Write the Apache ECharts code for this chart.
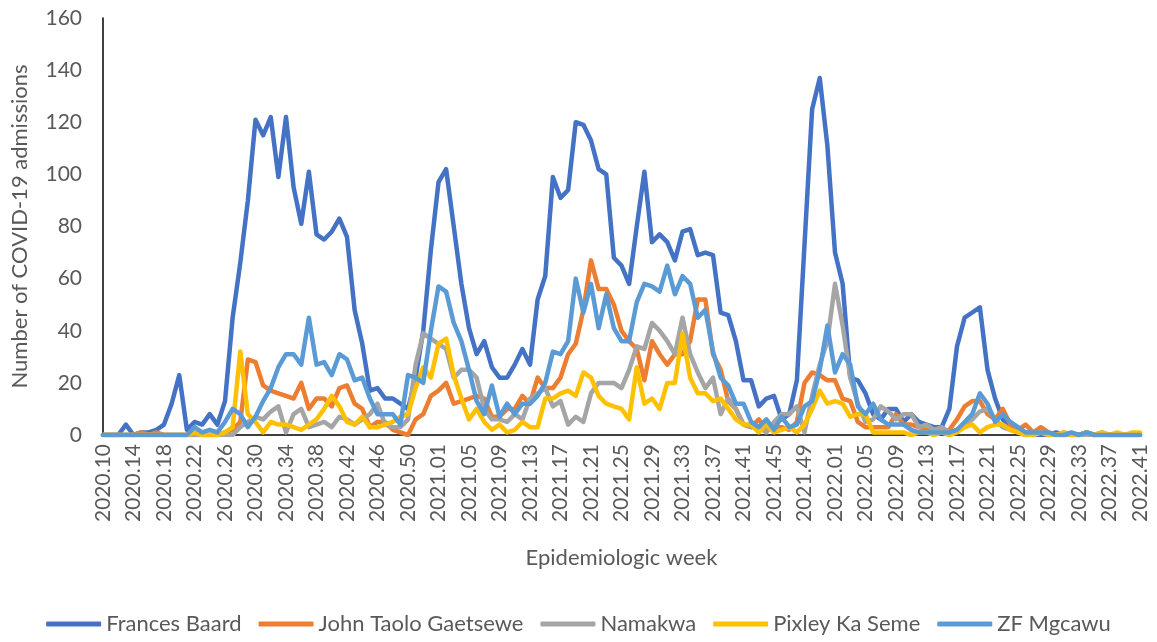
<!DOCTYPE html>
<html>
<head>
<meta charset="utf-8">
<script src="https://cdn.jsdelivr.net/npm/echarts@6/dist/echarts.min.js"></script>
<style>
  html, body { margin: 0; padding: 0; background: #fff; }
  #chart { width: 1157px; height: 642px; }
</style>
</head>
<body>
<div id="chart"></div>
<script>
// epidemiologic weeks: [year, first week, last week]
const yearWeeks = [[2020, 10, 53], [2021, 1, 52], [2022, 1, 41]]
const weeks = []
yearWeeks.forEach(([y, a, b]) => {
  for (let w = a; w <= b; w++) weeks.push(y + '.' + String(w).padStart(2, '0'))
})

const seriesNames = ['Frances Baard', 'John Taolo Gaetsewe', 'Namakwa', 'Pixley Ka Seme', 'ZF Mgcawu']
const seriesColors = ['#4472C4', '#ED7D31', '#A5A5A5', '#FFC000', '#5B9BD5']
const yTicks = [0, 20, 40, 60, 80, 100, 120, 140, 160]

// admissions per week
const francesBaard = [
  0, 0, 0, 4, 0, 1, 1, 2, 4, 12,
  23, 2, 5, 4, 8, 4, 13, 45, 66, 90,
  121, 115, 122, 99, 122, 95, 81, 101, 77, 75,
  78, 83, 76, 48, 35, 17, 18, 14, 14, 12,
  10, 22, 40, 71, 97, 102, 80, 58, 41, 31,
  36, 26, 22, 22, 27, 33, 27, 52, 61, 99,
  91, 94, 120, 119, 113, 102, 100, 68, 65, 58,
  80, 101, 74, 77, 74, 67, 78, 79, 69, 70,
  69, 47, 46, 36, 21, 21, 11, 14, 15, 6,
  8, 21, 73, 125, 137, 111, 70, 58, 22, 21,
  16, 8, 6, 10, 10, 5, 8, 5, 4, 3,
  3, 10, 34, 45, 47, 49, 25, 14, 6, 3,
  1, 1, 0, 0, 0, 1, 0, 0, 0, 1,
  0, 0, 0, 0, 0, 0, 0
]
const johnTaolo = [
  0, 0, 0, 0, 0, 1, 0, 1, 0, 0,
  0, 0, 0, 0, 0, 0, 1, 2, 5, 29,
  28, 19, 17, 16, 15, 14, 20, 10, 14, 14,
  11, 18, 19, 12, 10, 3, 5, 5, 2, 1,
  0, 6, 8, 15, 17, 20, 12, 13, 14, 15,
  14, 7, 7, 10, 10, 15, 12, 22, 18, 18,
  22, 31, 35, 48, 67, 56, 56, 50, 40, 36,
  33, 21, 36, 31, 27, 31, 31, 36, 52, 52,
  31, 25, 13, 10, 4, 3, 6, 2, 3, 3,
  2, 5, 20, 24, 23, 21, 21, 14, 13, 5,
  3, 3, 3, 3, 8, 4, 4, 3, 2, 2,
  1, 2, 6, 11, 13, 13, 8, 6, 10, 4,
  2, 4, 1, 3, 1, 0, 1, 0, 0, 1,
  0, 0, 0, 0, 0, 0, 0
]
const namakwa = [
  0, 0, 0, 0, 0, 0, 0, 0, 0, 0,
  0, 0, 0, 0, 0, 0, 0, 0, 3, 5,
  7, 6, 9, 11, 1, 8, 10, 3, 4, 5,
  3, 7, 6, 4, 6, 8, 12, 4, 3, 3,
  6, 27, 39, 37, 35, 33, 22, 25, 25, 22,
  10, 6, 6, 5, 8, 6, 14, 16, 18, 11,
  13, 4, 7, 5, 16, 20, 20, 20, 18, 25,
  34, 33, 43, 40, 36, 31, 45, 31, 24, 18,
  22, 8, 14, 10, 4, 3, 3, 1, 5, 8,
  8, 11, 1, 15, 27, 36, 58, 42, 22, 12,
  5, 6, 11, 9, 6, 8, 8, 3, 4, 2,
  3, 1, 2, 4, 6, 9, 10, 6, 3, 2,
  1, 0, 0, 1, 0, 0, 0, 0, 0, 0,
  0, 1, 0, 0, 0, 0, 0
]
const pixleyKaSeme = [
  0, 0, 0, 0, 0, 0, 0, 0, 0, 0,
  0, 0, 1, 0, 0, 0, 1, 3, 32, 8,
  5, 1, 5, 4, 4, 3, 2, 4, 6, 10,
  15, 11, 5, 4, 7, 3, 3, 4, 5, 7,
  8, 18, 26, 22, 35, 37, 23, 14, 6, 10,
  5, 2, 4, 1, 2, 5, 3, 3, 14, 14,
  16, 17, 15, 24, 22, 15, 12, 11, 10, 6,
  26, 12, 14, 10, 20, 20, 39, 22, 16, 16,
  13, 14, 10, 6, 4, 4, 1, 4, 1, 2,
  3, 1, 4, 10, 17, 12, 13, 12, 7, 8,
  8, 1, 1, 1, 1, 1, 0, 1, 1, 0,
  1, 0, 1, 3, 4, 1, 3, 4, 4, 2,
  1, 0, 0, 1, 0, 0, 1, 0, 0, 1,
  0, 1, 0, 1, 0, 1, 1
]
const zfMgcawu = [
  0, 0, 0, 0, 0, 0, 0, 0, 0, 0,
  0, 0, 3, 1, 2, 1, 5, 10, 8, 3,
  7, 13, 18, 26, 31, 31, 27, 45, 27, 28,
  23, 31, 29, 21, 22, 14, 8, 8, 8, 4,
  23, 22, 20, 40, 57, 55, 43, 36, 25, 13,
  8, 19, 7, 12, 8, 12, 12, 15, 20, 32,
  31, 36, 60, 47, 58, 41, 54, 41, 36, 36,
  51, 58, 57, 55, 65, 54, 61, 58, 45, 48,
  32, 22, 19, 12, 12, 5, 3, 6, 2, 7,
  3, 4, 11, 13, 25, 42, 24, 31, 27, 11,
  8, 12, 6, 4, 4, 4, 2, 1, 1, 1,
  1, 1, 2, 5, 8, 16, 12, 5, 8, 5,
  3, 1, 1, 1, 1, 0, 0, 1, 0, 1,
  0, 0, 0, 0, 0, 0, 0
]
const seriesData = [francesBaard, johnTaolo, namakwa, pixleyKaSeme, zfMgcawu]

const textColor = '#595959'
const font = 'Lato'

const chart = echarts.init(document.getElementById('chart'))
const option = {
  animation: false,
  color: seriesColors,
  grid: { left: 103, right: 17, top: 18, bottom: 207 },
  legend: {
    bottom: 2,
    left: 'center',
    icon: 'roundRect',
    itemWidth: 55,
    itemHeight: 5,
    itemGap: 17,
    textStyle: { color: textColor, fontSize: 22, fontFamily: font },
    data: seriesNames
  },
  xAxis: {
    type: 'category',
    data: weeks,
    boundaryGap: false,
    name: 'Epidemiologic week',
    nameLocation: 'middle',
    nameGap: 112,
    nameTextStyle: { color: textColor, fontSize: 22, fontFamily: font },
    axisLine: { lineStyle: { color: '#000', width: 1.5 } },
    axisTick: { show: false },
    axisLabel: {
      interval: 3,
      rotate: 90,
      margin: 9,
      color: textColor,
      fontSize: 21,
      fontFamily: font
    }
  },
  yAxis: {
    type: 'value',
    min: yTicks[0],
    max: yTicks[yTicks.length - 1],
    interval: yTicks[1] - yTicks[0],
    name: 'Number of COVID-19 admissions',
    nameLocation: 'middle',
    nameGap: 72,
    nameTextStyle: { color: textColor, fontSize: 22, fontFamily: font },
    axisLine: { show: true, lineStyle: { color: '#000', width: 1.5 } },
    axisTick: { show: false },
    splitLine: { show: false },
    axisLabel: { margin: 21, color: textColor, fontSize: 21, fontFamily: font }
  },
  series: seriesNames.map((name, k) => ({
    name: name,
    type: 'line',
    data: seriesData[k],
    showSymbol: false,
    lineStyle: { width: 4.5, cap: 'round', join: 'round' }
  }))
}
chart.setOption(option)
</script>
</body>
</html>
